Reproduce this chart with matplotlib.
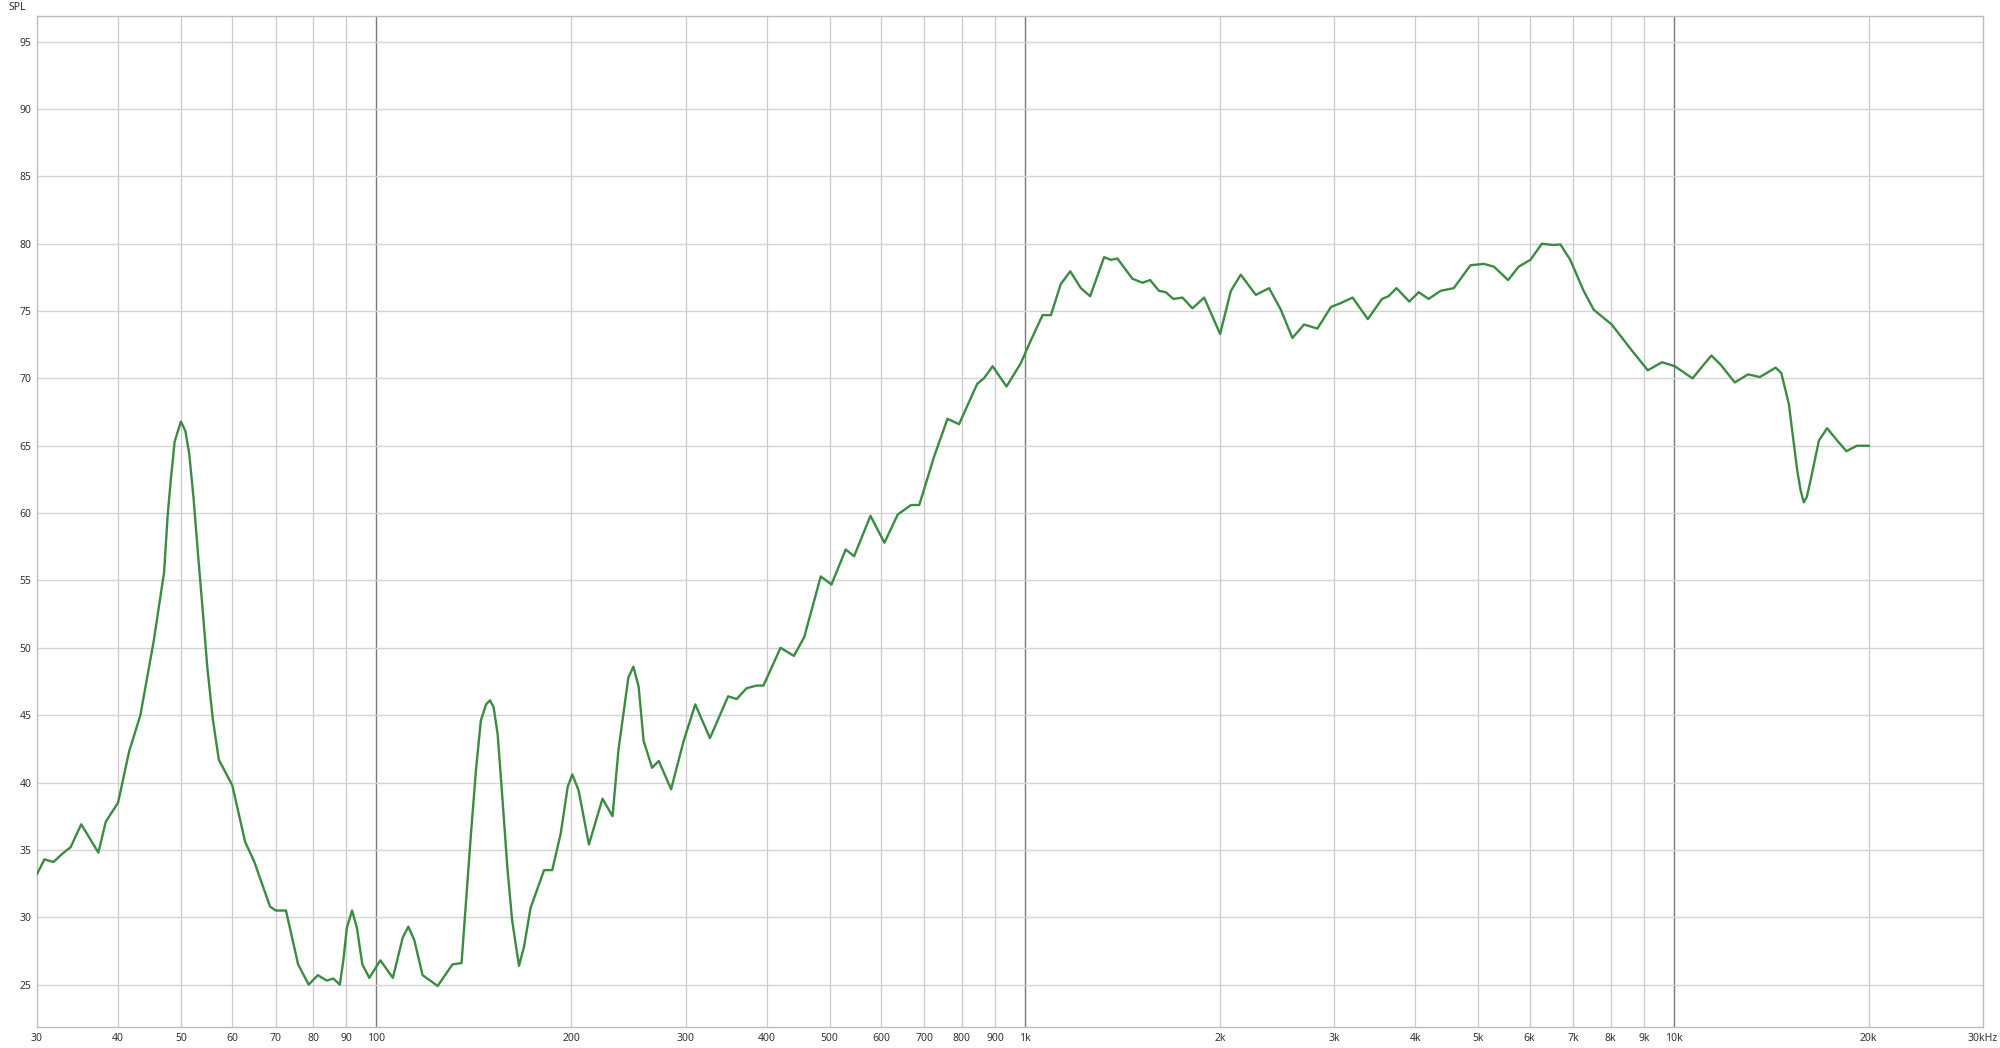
import matplotlib.pyplot as plt
from matplotlib.ticker import FixedLocator, NullLocator

# frequency response readings (Hz, dB SPL)
freq = [30, 30.8, 31.8, 32.8, 33.8, 35.1, 37.3, 38.3, 40, 41.6, 43.3, 45.4, 46.2, 47.1,
        47.7, 48.2, 48.9, 50, 50.8, 51.5, 52.3, 53.1, 54.0, 54.9, 56.0, 57.2, 58.5, 60,
        62.8, 64.9, 68.6, 70, 72.6, 75.8, 78.7, 81.3, 83.9, 85.9, 87.9, 89, 90.1, 91.8,
        93.4, 95.2, 97.6, 101.5, 106.1, 109.0, 109.9, 112.1, 114.5, 117.9, 124.4, 131.1,
        135.4, 137.6, 140, 142.5, 145, 147.7, 149.8, 151.7, 153.9, 156.5, 159.3, 162,
        166, 169, 173, 181.5, 186.8, 192.5, 197.4, 200.6, 205.2, 212.8, 223.3, 231.4,
        236.3, 240.5, 244.8, 249.2, 253.9, 258.4, 266.3, 272.7, 284.9, 297.9, 310.4, 327,
        348.8, 359.6, 372.4, 386, 395.4, 420.1, 440.6, 457, 484.6, 503.4, 529.4, 545.5,
        578.1, 607.5, 637, 667.5, 687.4, 724.7, 759.9, 791.7, 844.5, 864.6, 892, 937,
        985, 1021, 1065, 1097, 1136, 1175, 1220, 1261, 1325, 1357, 1389, 1465, 1518,
        1560, 1610, 1649, 1694, 1750, 1813, 1890, 2000, 2078, 2152, 2270, 2380, 2481,
        2585, 2694, 2825, 2964, 3072, 3201, 3379, 3553, 3636, 3741, 3915, 4047, 4193,
        4373, 4584, 4864, 5101, 5285, 5560, 5773, 6017, 6268, 6536, 6692, 6932, 7269,
        7533, 8031, 8584, 9127, 9600, 10050, 10700, 11080, 11440, 11830, 12430, 13030,
        13590, 14370, 14660, 15060, 15510, 15700, 15880, 16050, 16260, 16760, 17250,
        17870, 18470, 19170, 20000]
spl = [33.2, 34.3, 34.1, 34.7, 35.2, 36.9, 34.8, 37.1, 38.5, 42.3, 45.0, 50.5, 52.9, 55.6,
       59.8, 62.3, 65.3, 66.8, 66.1, 64.4, 61.1, 57.1, 52.9, 48.6, 44.7, 41.7, 40.8, 39.8,
       35.6, 34.1, 30.8, 30.5, 30.5, 26.5, 25.0, 25.7, 25.3, 25.45, 25.0, 26.8, 29.2, 30.5,
       29.2, 26.5, 25.5, 26.8, 25.5, 27.8, 28.5, 29.3, 28.3, 25.7, 24.9, 26.5,
       26.6, 31.2, 36.2, 40.9, 44.6, 45.8, 46.1, 45.6, 43.6, 38.9, 33.7, 29.8,
       26.4, 27.8, 30.7, 33.5, 33.5, 36.2, 39.7, 40.6, 39.4, 35.4, 38.8, 37.5,
       42.4, 45.1, 47.8, 48.6, 47.1, 43.1, 41.1, 41.6, 39.5, 43.1, 45.8, 43.3,
       46.4, 46.2, 47.0, 47.2, 47.2, 50.0, 49.4, 50.8, 55.3, 54.7, 57.3, 56.8,
       59.8, 57.8, 59.9, 60.6, 60.6, 64.2, 67.0, 66.6, 69.6, 70.0, 70.9, 69.4,
       71.1, 72.8, 74.7, 74.7, 77.0, 77.95, 76.7, 76.1, 79.0, 78.8, 78.9, 77.4, 77.1,
       77.3, 76.5, 76.4, 75.9, 76.0, 75.2, 76.0, 73.3, 76.5, 77.7, 76.2, 76.7, 75.1,
       73.0, 74.0, 73.7, 75.3, 75.6, 76.0, 74.4, 75.9, 76.1, 76.7, 75.7, 76.4, 75.9,
       76.5, 76.7, 78.4, 78.5, 78.3, 77.3, 78.3, 78.8, 80.0, 79.9, 79.95, 78.8, 76.5,
       75.1, 74.0, 72.2, 70.6, 71.2, 70.9, 70.0, 70.9, 71.7, 71.0, 69.7, 70.3,
       70.1, 70.8, 70.4, 68.1, 63.2, 61.7, 60.8, 61.2, 62.4, 65.4, 66.3,
       65.4, 64.6, 65.0, 65.0]

xticks = [30, 40, 50, 60, 70, 80, 90, 100, 200, 300, 400, 500, 600, 700, 800, 900,
          1000, 2000, 3000, 4000, 5000, 6000, 7000, 8000, 9000, 10000, 20000, 30000]
xlabels = ['30', '40', '50', '60', '70', '80', '90', '100', '200', '300', '400', '500',
           '600', '700', '800', '900', '1k', '2k', '3k', '4k', '5k', '6k', '7k', '8k',
           '9k', '10k', '20k', '30kHz']
yticks = [25, 30, 35, 40, 45, 50, 55, 60, 65, 70, 75, 80, 85, 90, 95]

plt.rcParams['font.family'] = ['Noto Sans', 'DejaVu Sans']

fig = plt.figure(figsize=(20, 10.48), dpi=100)
ax = fig.add_axes([0.0185, 0.020, 0.973, 0.9647])

ax.set_xscale('log')
ax.set_xlim(30, 30000)
ax.set_ylim(21.85, 96.9)

# grid: decades darker
for f in xticks[1:-1]:
    dark = f in (100, 1000, 10000)
    ax.axvline(f, color='#7a7a7a' if dark else '#cacaca', lw=1.0 if dark else 0.9, zorder=1)
for v in yticks:
    ax.axhline(v, color='#d4d4d4', lw=1.0, zorder=1)

ax.plot(freq, spl, color='#3b8b43', lw=1.7, zorder=3, solid_joinstyle='round')

ax.xaxis.set_major_locator(FixedLocator(xticks))
ax.xaxis.set_minor_locator(NullLocator())
ax.set_xticklabels(xlabels)
ax.set_yticks(yticks)
ax.tick_params(length=0, labelsize=7.5, colors='#333333')
ax.tick_params(axis='x', pad=4)
ax.tick_params(axis='y', pad=4)

for s in ax.spines.values():
    s.set_color('#bdbdbd')
    s.set_linewidth(1.0)

fig.text(0.0085, 0.993, 'SPL', fontsize=7.5, color='#333333', va='center', ha='center')

fig.savefig('out.png', dpi=100, facecolor='white')
